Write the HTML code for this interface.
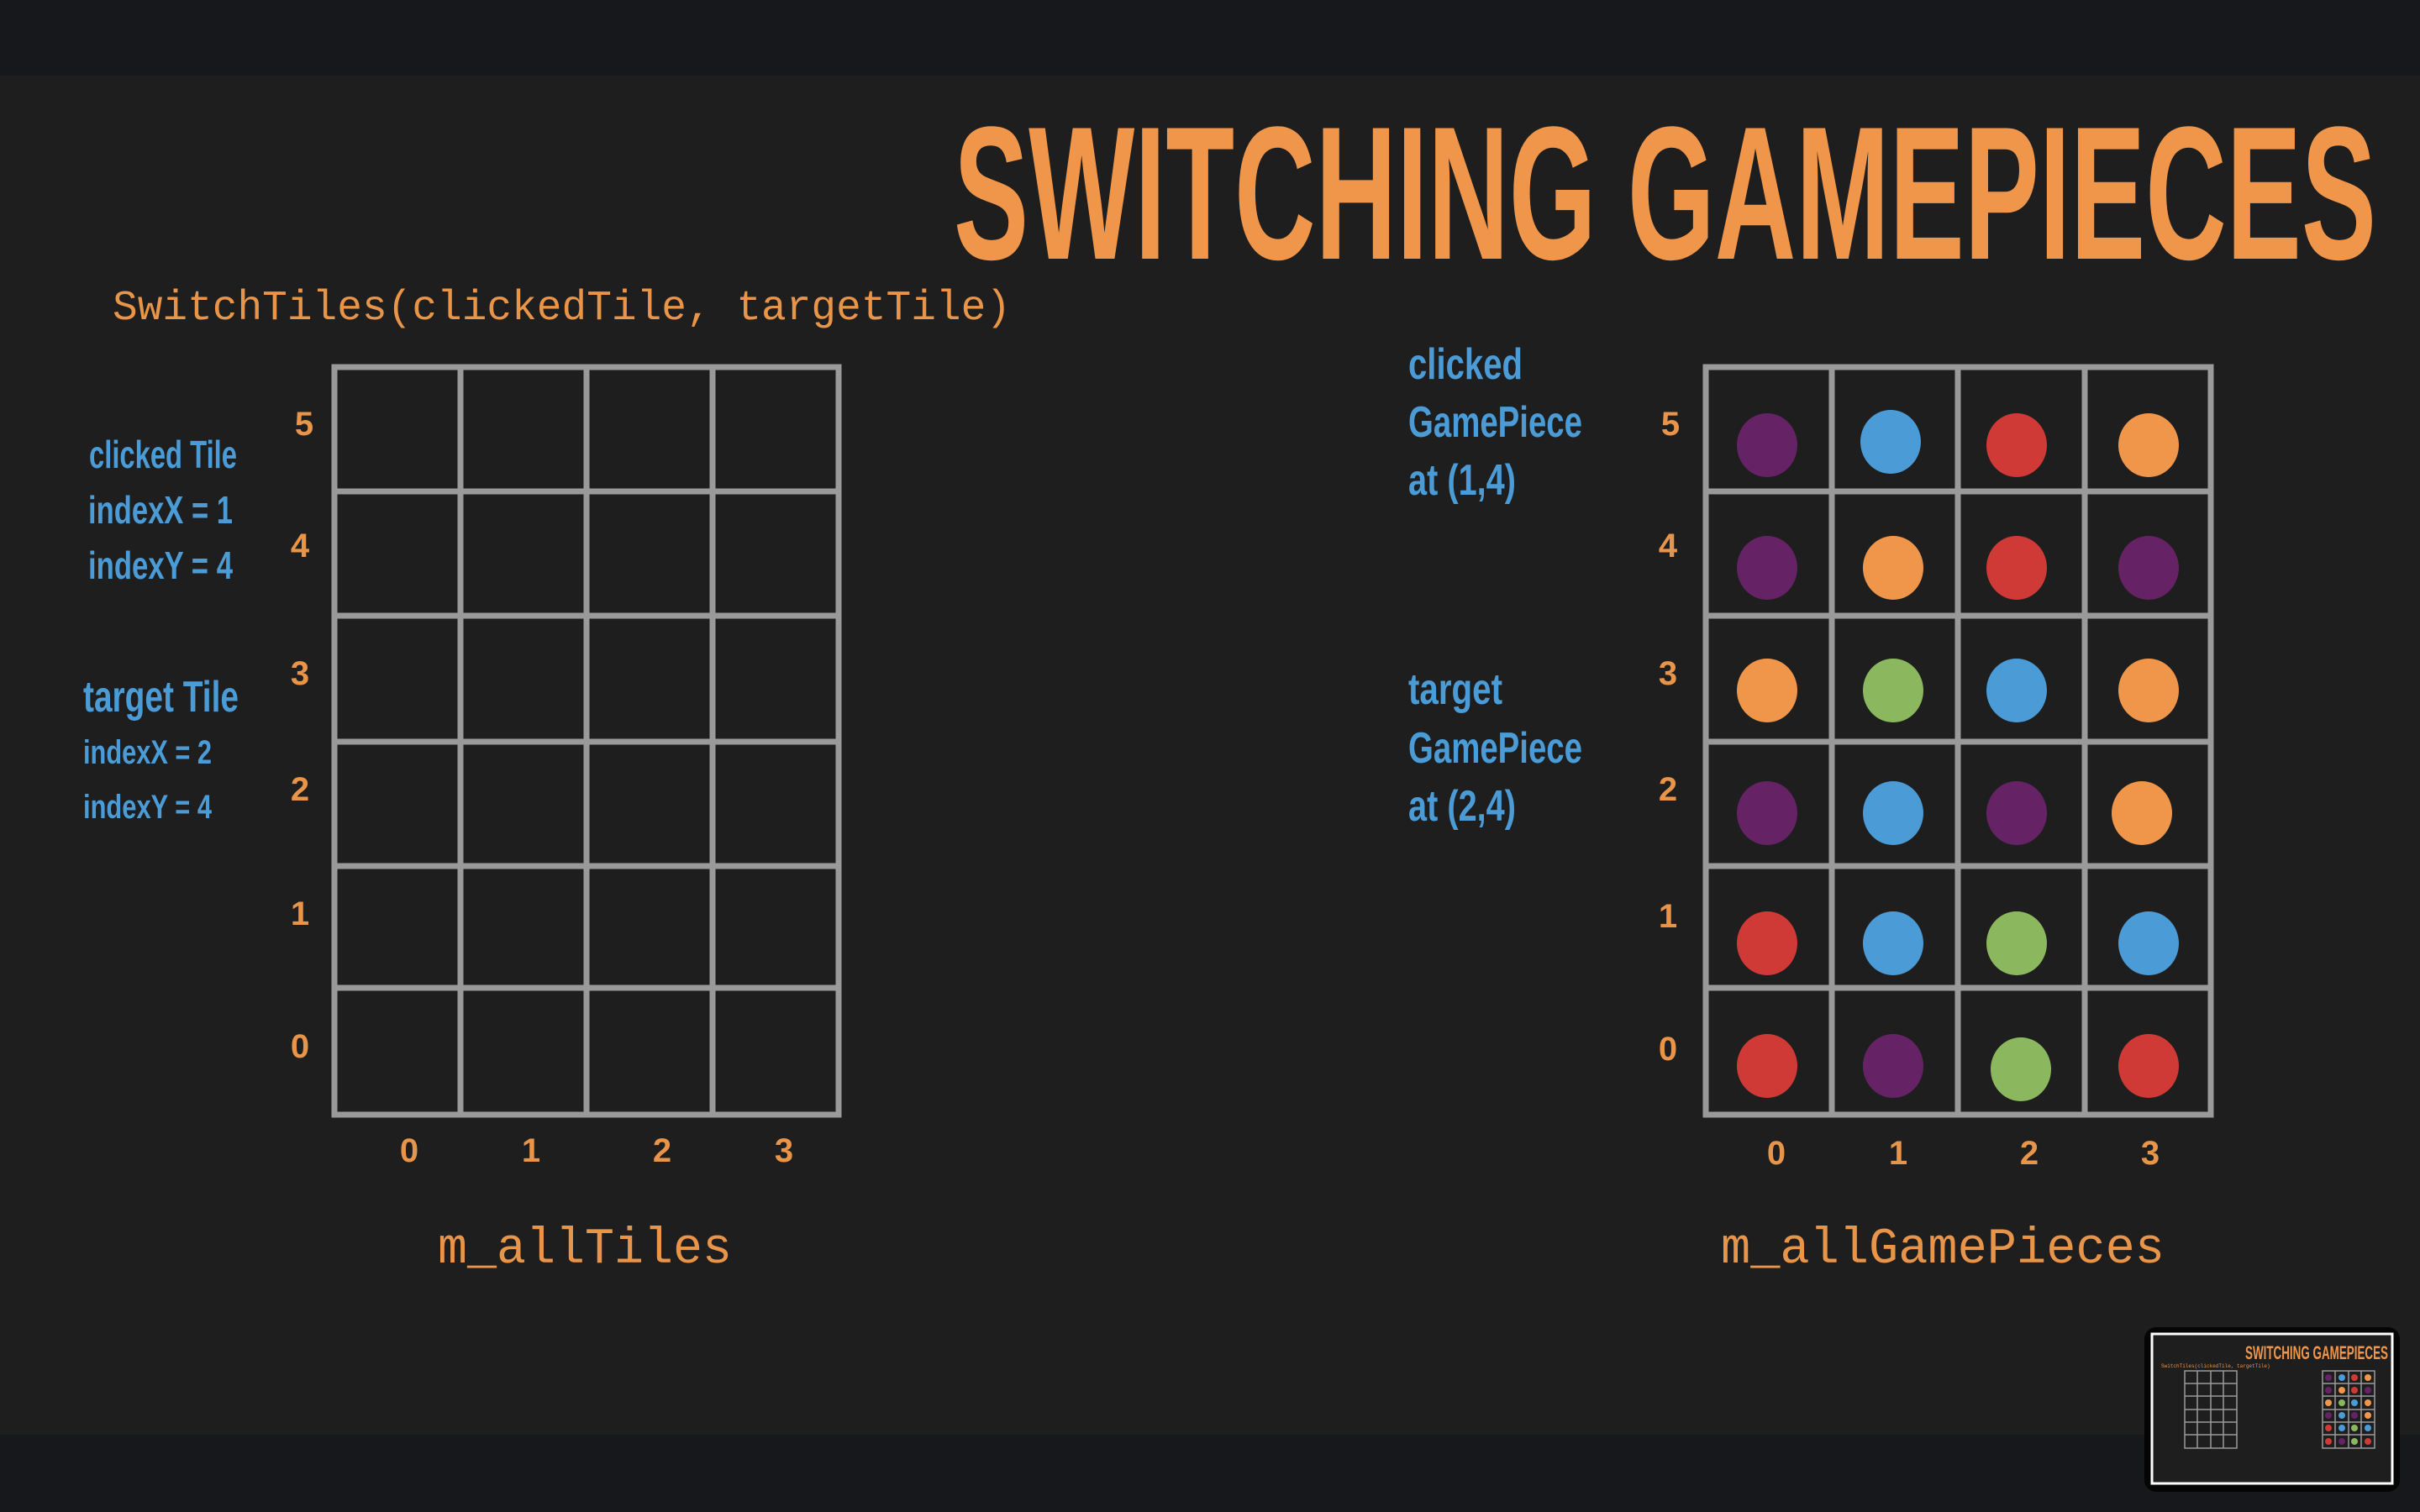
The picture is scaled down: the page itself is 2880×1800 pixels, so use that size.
<!DOCTYPE html>
<html><head><meta charset="utf-8"><style>
html,body{margin:0;padding:0;background:#1e1e1e;}
svg{display:block}
</style></head><body>
<svg width="2880" height="1800" viewBox="0 0 2880 1800" xmlns="http://www.w3.org/2000/svg">
<rect x="0" y="0" width="2880" height="1800" fill="#1e1e1e"/>
<rect x="0" y="0" width="2880" height="90" fill="#16181b"/>
<rect x="0" y="1708" width="2880" height="92" fill="#16181b"/>
<text x="1135" y="308" font-family="Liberation Sans Narrow, Liberation Sans, sans-serif" font-weight="bold" font-size="226" fill="#f0964a" textLength="1693" lengthAdjust="spacingAndGlyphs">SWITCHING GAMEPIECES</text>
<text x="134" y="380" font-family="Liberation Mono, DejaVu Sans Mono, monospace" font-size="50" fill="#e8954a" textLength="1069" lengthAdjust="spacingAndGlyphs">SwitchTiles(clickedTile, targetTile)</text>

<g font-family="Liberation Sans Narrow, Liberation Sans, sans-serif" font-weight="bold" fill="#4a9bd6">
<text x="106" y="557" font-size="46" textLength="176" lengthAdjust="spacingAndGlyphs">clicked Tile</text>
<text x="105" y="623" font-size="46" textLength="172" lengthAdjust="spacingAndGlyphs">indexX = 1</text>
<text x="105" y="689" font-size="46" textLength="172" lengthAdjust="spacingAndGlyphs">indexY = 4</text>
<text x="99" y="847" font-size="52" textLength="185" lengthAdjust="spacingAndGlyphs">target Tile</text>
<text x="99" y="909" font-size="40" textLength="153" lengthAdjust="spacingAndGlyphs">indexX = 2</text>
<text x="99" y="974" font-size="40" textLength="153" lengthAdjust="spacingAndGlyphs">indexY = 4</text>
<text x="1676" y="451" font-size="52" textLength="136" lengthAdjust="spacingAndGlyphs">clicked</text>
<text x="1676" y="520" font-size="52" textLength="207" lengthAdjust="spacingAndGlyphs">GamePiece</text>
<text x="1676" y="589" font-size="52" textLength="128" lengthAdjust="spacingAndGlyphs">at (1,4)</text>
<text x="1676" y="838" font-size="52" textLength="112" lengthAdjust="spacingAndGlyphs">target</text>
<text x="1676" y="908" font-size="52" textLength="207" lengthAdjust="spacingAndGlyphs">GamePiece</text>
<text x="1676" y="977" font-size="52" textLength="128" lengthAdjust="spacingAndGlyphs">at (2,4)</text>
</g>

<g fill="none" stroke="#9a9a9a" stroke-width="7">
<rect x="398" y="437" width="600" height="890"/>
<line x1="548" y1="437" x2="548" y2="1327"/><line x1="698" y1="437" x2="698" y2="1327"/><line x1="848" y1="437" x2="848" y2="1327"/>
<line x1="398" y1="585" x2="998" y2="585"/><line x1="398" y1="733" x2="998" y2="733"/><line x1="398" y1="883" x2="998" y2="883"/><line x1="398" y1="1031" x2="998" y2="1031"/><line x1="398" y1="1176" x2="998" y2="1176"/>
<rect x="2030" y="437" width="601" height="890"/>
<line x1="2180" y1="437" x2="2180" y2="1327"/><line x1="2330" y1="437" x2="2330" y2="1327"/><line x1="2481" y1="437" x2="2481" y2="1327"/>
<line x1="2030" y1="585" x2="2631" y2="585"/><line x1="2030" y1="733" x2="2631" y2="733"/><line x1="2030" y1="883" x2="2631" y2="883"/><line x1="2030" y1="1031" x2="2631" y2="1031"/><line x1="2030" y1="1176" x2="2631" y2="1176"/>
</g>

<g font-family="Liberation Sans Narrow, Liberation Sans, sans-serif" font-weight="bold" font-size="40" fill="#e8954a" text-anchor="middle">
<text x="362" y="518">5</text><text x="357" y="663">4</text><text x="357" y="815">3</text><text x="357" y="953">2</text><text x="357" y="1101">1</text><text x="357" y="1259">0</text>
<text x="487" y="1383">0</text><text x="632" y="1383">1</text><text x="788" y="1383">2</text><text x="933" y="1383">3</text>
<text x="1988" y="518">5</text><text x="1985" y="663">4</text><text x="1985" y="815">3</text><text x="1985" y="953">2</text><text x="1985" y="1104">1</text><text x="1985" y="1262">0</text>
<text x="2114" y="1386">0</text><text x="2259" y="1386">1</text><text x="2415" y="1386">2</text><text x="2559" y="1386">3</text>
</g>
<g font-family="Liberation Mono, DejaVu Sans Mono, monospace" font-size="60" fill="#e8954a" text-anchor="middle">
<text x="696" y="1503" textLength="350" lengthAdjust="spacingAndGlyphs">m_allTiles</text>
<text x="2312" y="1503" textLength="528" lengthAdjust="spacingAndGlyphs">m_allGamePieces</text>
</g>

<g>
<!-- row 5 -->
<ellipse cx="2103" cy="530" rx="36" ry="38" fill="#652366"/>
<ellipse cx="2250" cy="526" rx="36" ry="38" fill="#4a9bd6"/>
<ellipse cx="2400" cy="530" rx="36" ry="38" fill="#d03a36"/>
<ellipse cx="2557" cy="530" rx="36" ry="38" fill="#f0964a"/>
<!-- row 4 -->
<ellipse cx="2103" cy="676" rx="36" ry="38" fill="#652366"/>
<ellipse cx="2253" cy="676" rx="36" ry="38" fill="#f0964a"/>
<ellipse cx="2400" cy="676" rx="36" ry="38" fill="#d03a36"/>
<ellipse cx="2557" cy="676" rx="36" ry="38" fill="#652366"/>
<!-- row 3 -->
<ellipse cx="2103" cy="822" rx="36" ry="38" fill="#f0964a"/>
<ellipse cx="2253" cy="822" rx="36" ry="38" fill="#8bb85e"/>
<ellipse cx="2400" cy="822" rx="36" ry="38" fill="#4a9bd6"/>
<ellipse cx="2557" cy="822" rx="36" ry="38" fill="#f0964a"/>
<!-- row 2 -->
<ellipse cx="2103" cy="968" rx="36" ry="38" fill="#652366"/>
<ellipse cx="2253" cy="968" rx="36" ry="38" fill="#4a9bd6"/>
<ellipse cx="2400" cy="968" rx="36" ry="38" fill="#652366"/>
<ellipse cx="2549" cy="968" rx="36" ry="38" fill="#f0964a"/>
<!-- row 1 -->
<ellipse cx="2103" cy="1123" rx="36" ry="38" fill="#d03a36"/>
<ellipse cx="2253" cy="1123" rx="36" ry="38" fill="#4a9bd6"/>
<ellipse cx="2400" cy="1123" rx="36" ry="38" fill="#8bb85e"/>
<ellipse cx="2557" cy="1123" rx="36" ry="38" fill="#4a9bd6"/>
<!-- row 0 -->
<ellipse cx="2103" cy="1269" rx="36" ry="38" fill="#d03a36"/>
<ellipse cx="2253" cy="1269" rx="36" ry="38" fill="#652366"/>
<ellipse cx="2405" cy="1273" rx="36" ry="38" fill="#8bb85e"/>
<ellipse cx="2557" cy="1269" rx="36" ry="38" fill="#d03a36"/>
</g>

<!-- thumbnail -->
<rect x="2552" y="1580" width="304" height="196" rx="14" fill="#050505"/>
<rect x="2561" y="1588" width="286" height="178" fill="#1e1e1e" stroke="#ffffff" stroke-width="3"/>
<text x="2842" y="1618" text-anchor="end" font-family="Liberation Sans Narrow, Liberation Sans, sans-serif" font-weight="bold" font-size="22" fill="#f0964a" textLength="170" lengthAdjust="spacingAndGlyphs">SWITCHING GAMEPIECES</text>
<g fill="none" stroke="#9a9a9a" stroke-width="1.5">
<rect x="2600" y="1632" width="62" height="92"/>
<line x1="2615" y1="1632" x2="2615" y2="1724"/><line x1="2631" y1="1632" x2="2631" y2="1724"/><line x1="2646" y1="1632" x2="2646" y2="1724"/>
<line x1="2600" y1="1647" x2="2662" y2="1647"/><line x1="2600" y1="1662" x2="2662" y2="1662"/><line x1="2600" y1="1678" x2="2662" y2="1678"/><line x1="2600" y1="1693" x2="2662" y2="1693"/><line x1="2600" y1="1708" x2="2662" y2="1708"/>
<rect x="2764" y="1632" width="62" height="92"/>
<line x1="2779" y1="1632" x2="2779" y2="1724"/><line x1="2795" y1="1632" x2="2795" y2="1724"/><line x1="2810" y1="1632" x2="2810" y2="1724"/>
<line x1="2764" y1="1647" x2="2826" y2="1647"/><line x1="2764" y1="1662" x2="2826" y2="1662"/><line x1="2764" y1="1678" x2="2826" y2="1678"/><line x1="2764" y1="1693" x2="2826" y2="1693"/><line x1="2764" y1="1708" x2="2826" y2="1708"/>
</g>
<g>
<circle cx="2771" cy="1640" r="4" fill="#652366"/><circle cx="2787" cy="1640" r="4" fill="#4a9bd6"/><circle cx="2802" cy="1640" r="4" fill="#d03a36"/><circle cx="2818" cy="1640" r="4" fill="#f0964a"/>
<circle cx="2771" cy="1655" r="4" fill="#652366"/><circle cx="2787" cy="1655" r="4" fill="#f0964a"/><circle cx="2802" cy="1655" r="4" fill="#d03a36"/><circle cx="2818" cy="1655" r="4" fill="#652366"/>
<circle cx="2771" cy="1670" r="4" fill="#f0964a"/><circle cx="2787" cy="1670" r="4" fill="#8bb85e"/><circle cx="2802" cy="1670" r="4" fill="#4a9bd6"/><circle cx="2818" cy="1670" r="4" fill="#f0964a"/>
<circle cx="2771" cy="1685" r="4" fill="#652366"/><circle cx="2787" cy="1685" r="4" fill="#4a9bd6"/><circle cx="2802" cy="1685" r="4" fill="#652366"/><circle cx="2818" cy="1685" r="4" fill="#f0964a"/>
<circle cx="2771" cy="1700" r="4" fill="#d03a36"/><circle cx="2787" cy="1700" r="4" fill="#4a9bd6"/><circle cx="2802" cy="1700" r="4" fill="#8bb85e"/><circle cx="2818" cy="1700" r="4" fill="#4a9bd6"/>
<circle cx="2771" cy="1716" r="4" fill="#d03a36"/><circle cx="2787" cy="1716" r="4" fill="#652366"/><circle cx="2802" cy="1716" r="4" fill="#8bb85e"/><circle cx="2818" cy="1716" r="4" fill="#d03a36"/>
</g>
<text x="2572" y="1628" font-family="Liberation Mono, monospace" font-size="6" fill="#e8954a">SwitchTiles(clickedTile, targetTile)</text>
</svg>
</body></html>
